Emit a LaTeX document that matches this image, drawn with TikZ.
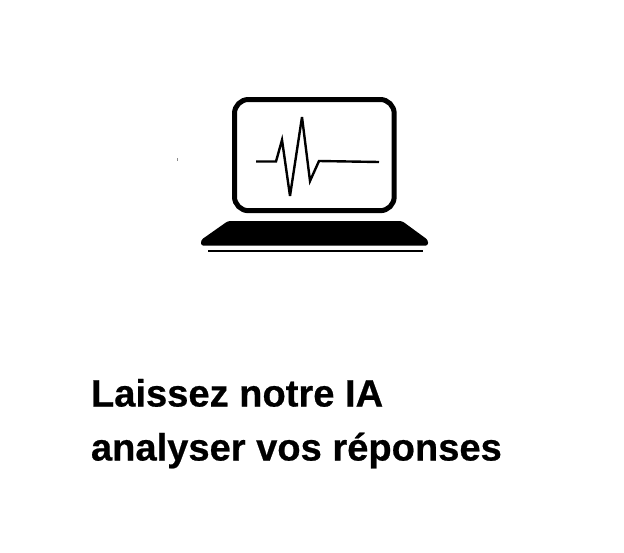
\documentclass[tikz,border=0pt]{standalone}
\usepackage{fontspec}
\setmainfont{Liberation Sans}[BoldFeatures={FakeBold=0.6}]
\tikzset{
  titletext/.style={anchor=base west,inner sep=0pt,outer sep=0pt,font=\fontsize{38.1}{38.1}\selectfont\bfseries,text=black},
  screenframe/.style={draw=black,line width=5pt,rounded corners=14pt},
  pulse/.style={draw=black,line width=2.4pt,line join=miter,miter limit=6}
}
\begin{document}
\begin{tikzpicture}[x=1pt,y=-1pt]
\useasboundingbox (0,0) rectangle (624,552);
\fill[white] (0,0) rectangle (624,552);
\draw[screenframe] (234.5,99.5) rectangle (394.2,210.7);
\draw[pulse] (256,161.5) -- (276,161.5) -- (282,140) -- (290,196) -- (302,117) -- (310,181) -- (319,161) -- (379,162);
\fill[black,rounded corners=2.5pt] (228,221) -- (402,221) -- (428,240) -- (428,245.7) -- (201,245.7) -- (201,240) -- cycle;
\fill[black] (208,250.2) rectangle (423,252.2);
\fill[black!45] (177,157.5) rectangle (178,160.5);
\node[titletext] (l1) at (91,406.5) {Laissez notre IA};
\node[titletext] (l2) at (91,460.5) {analyser vos réponses};
\end{tikzpicture}
\end{document}
